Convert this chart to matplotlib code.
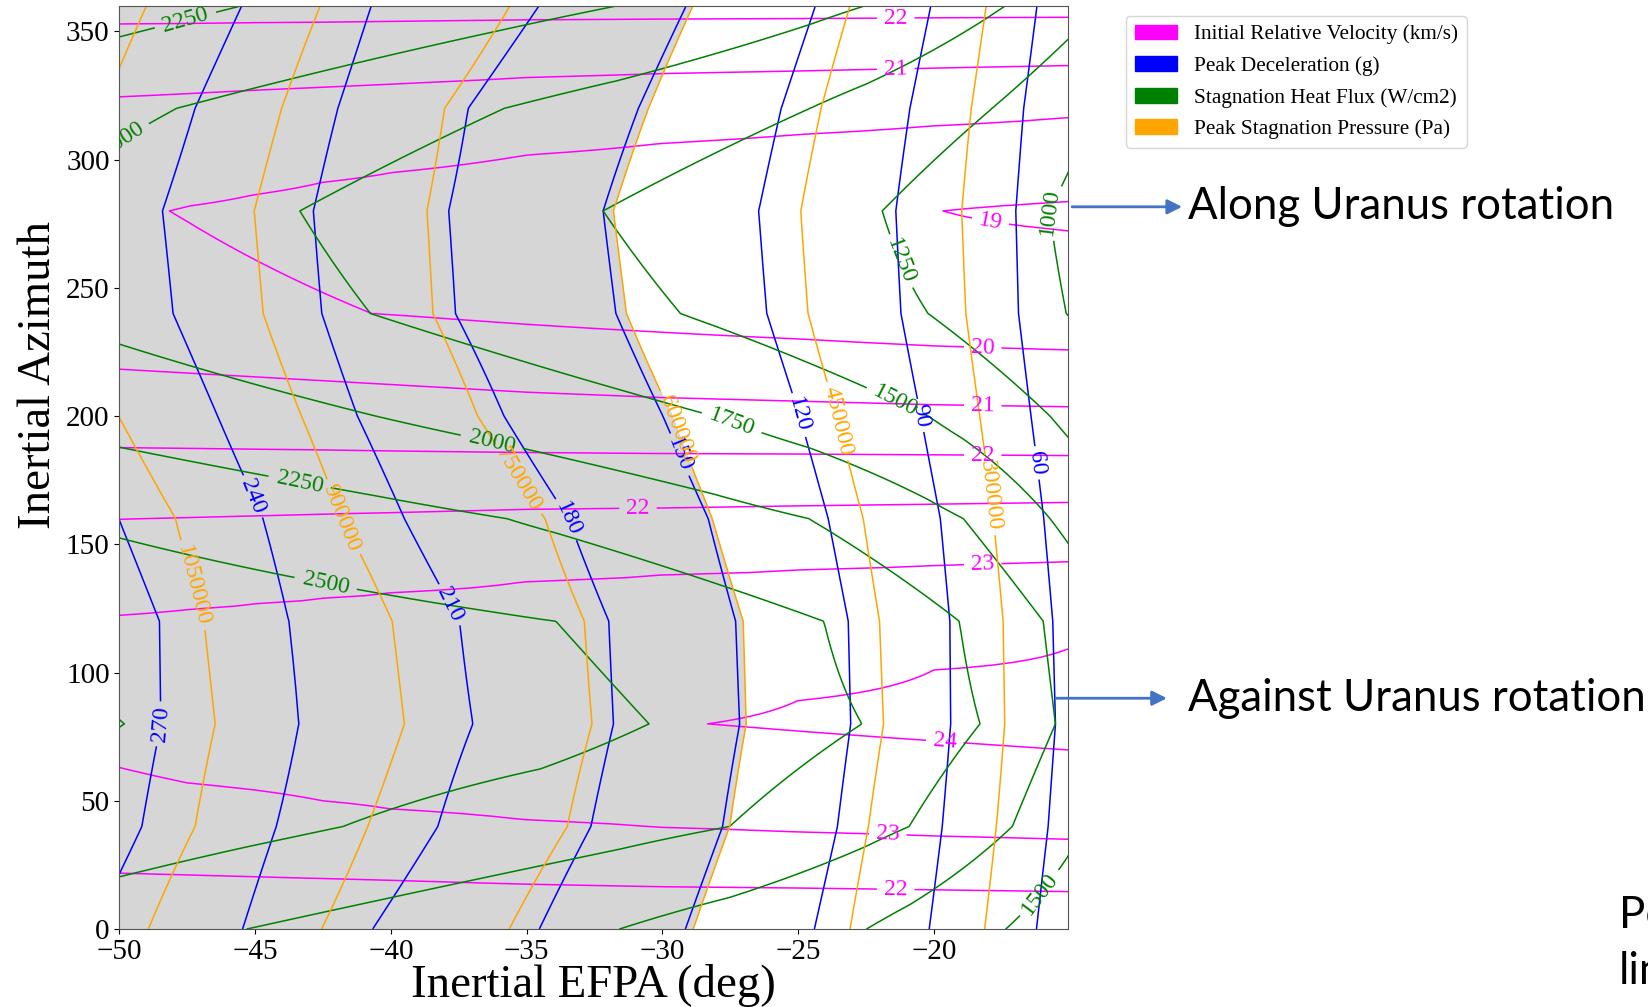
import numpy as np
import matplotlib
matplotlib.use("Agg")
import matplotlib.pyplot as plt
from matplotlib.patches import Patch
from matplotlib.transforms import blended_transform_factory

nan = np.nan

# azimuth rows of the entry sweep (deg)
azimuth_rows = [0, 40, 80, 120, 160, 200, 240, 280, 320, 360]

# peak deceleration (g): EFPA where each level sits on every azimuth row
decel_levels = [30, 60, 90, 120, 150, 180, 210, 240, 270, 300]
decel_efpa = [
    [-12.4, -12.0, -11.7, -11.8, -12.1, -12.5, -12.9, -13.0, -12.7, -12.4],
    [-16.22, -15.79, -15.52, -15.62, -15.95, -16.42, -16.88, -16.98, -16.69, -16.20],
    [-20.17, -19.69, -19.38, -19.41, -19.76, -20.48, -21.21, -21.40, -20.88, -20.11],
    [-24.40, -23.55, -23.06, -23.15, -23.89, -24.94, -26.15, -26.45, -25.62, -24.36],
    [-29.15, -27.78, -27.15, -27.30, -28.31, -29.98, -31.71, -32.18, -30.88, -29.12],
    [-34.53, -32.63, -31.80, -31.97, -33.46, -35.83, -37.62, -37.87, -37.15, -34.54],
    [-40.67, -38.27, -36.98, -37.47, -39.50, -41.23, -42.54, -42.85, -41.95, -40.72],
    [-45.46, -44.22, -43.39, -43.76, -44.71, -46.38, -48.02, -48.41, -47.21, -45.49],
    [-51.00, -49.17, -48.47, -48.52, -50.02, -51.80, -53.30, -53.70, -52.50, -50.80],
    [-56.3, -54.5, -53.8, -53.8, -55.3, -57.1, -58.6, -59.0, -57.8, -56.1],
]

# peak stagnation pressure (Pa)
press_levels = [150000, 300000, 450000, 600000, 750000, 900000, 1050000, 1200000]
press_efpa = [
    [-13.1, -12.7, -12.4, -12.45, -12.8, -13.3, -13.8, -14.0, -13.6, -13.1],
    [-18.13, -17.70, -17.39, -17.45, -17.81, -18.31, -18.82, -18.97, -18.62, -18.07],
    [-23.09, -22.41, -21.85, -22.00, -22.60, -23.57, -24.63, -24.90, -24.15, -23.09],
    [-28.86, -27.52, -26.91, -27.02, -28.16, -29.64, -31.32, -31.80, -30.51, -28.87],
    [-35.64, -33.50, -32.59, -32.87, -34.32, -36.80, -38.45, -38.67, -38.02, -35.61],
    [-42.55, -40.85, -39.50, -39.95, -41.79, -43.29, -44.70, -45.03, -44.02, -42.60],
    [-48.93, -47.21, -46.47, -46.88, -47.93, -50.03, -51.30, -51.60, -50.60, -49.00],
    [-55.9, -54.2, -53.5, -53.9, -54.9, -57.0, -58.3, -58.6, -57.6, -56.0],
]

# stagnation heat flux (W/cm2)
flux_levels = [750, 1000, 1250, 1500, 1750, 2000, 2250, 2500, 2600, 2750, 3000]
flux_efpa = [
    [-7.0, -6.0, -7.5, -7.0, -8.0, -10.0, -11.0, -11.5, -10.0, -8.0],
    [-10.0, -8.5, -9.5, -9.0, -10.0, -12.5, -15.12, -15.75, -14.0, -11.0],
    [-13.5, -11.0, -11.5, -11.0, -12.5, -15.72, -20.21, -21.90, -17.85, -13.8],
    [-17.35, -14.4, -13.3, -13.3, -15.72, -20.21, -29.33, -32.18, -24.56, -17.36],
    [-22.48, -17.11, -15.52, -15.97, -18.91, -28.11, -40.75, -43.35, -35.82, -22.53],
    [-31.58, -20.91, -18.30, -19.06, -24.60, -40.55, -53.4, -54.0, -47.89, -31.65],
    [-45.31, -27.52, -22.65, -24.05, -35.72, -55.5, -62.0, -64.0, -60.0, -45.49],
    [-57.0, -41.76, -30.49, -33.92, -52.6, -65.0, -70.0, -75.0, -72.0, -58.0],
    [-60.2, -47.46, -34.5, -43.55, -58.76, -69.0, -74.0, -79.0, -76.8, -62.8],
    [-65.0, -56.0, -49.82, -58.0, -68.0, -75.0, -80.0, -85.0, -84.0, -70.0],
    [-75.0, -70.0, -62.0, -75.0, -80.0, -85.0, -90.0, -95.0, -96.0, -82.0],
]

# initial relative velocity (km/s), sampled along EFPA columns
vel_columns = [-50, -47.5, -45, -42.5, -40, -35, -30, -25, -20, -15]
vel_at_0 = [22.02, 21.97, 21.96, 21.91, 21.88, 21.87, 21.85, 21.84, 21.84, 21.86]
vel_peak_80 = [23.90, 23.945, 23.99, 24.04, 24.09, 24.18, 24.27, 24.36, 24.46, 24.55]
vel_at_240 = [20.04, 19.974, 19.91, 19.846, 19.782, 19.654, 19.526, 19.398, 19.27, 19.142]
vel_trough_280 = [19.856, 19.78, 19.70, 19.62, 19.54, 19.38, 19.23, 19.07, 18.91, 18.76]
vel_at_360 = [21.83, 21.83, 21.83, 21.83, 21.83, 21.82, 21.82, 21.82, 21.82, 21.82]
vel_crossings = [
    (22.5, [21.8, 21.1, 20.4, 19.7, 19.0, 17.5, 16.5, 16.0, 15.3, 14.6]),
    (23.4, [63.0, 57.0, 54.2, 50.0, 46.8, 42.5, 39.5, 37.8, 36.2, 35.0]),
    (24.3, [nan, nan, nan, nan, nan, nan, nan, 77.2, 73.4, 69.8]),
    (24.3, [nan, nan, nan, nan, nan, nan, nan, 89.1, 101.0, 109.5]),
    (23.4, [122.5, 124.7, 126.9, 129.0, 131.2, 135.6, 138.1, 140.0, 141.8, 143.3]),
    (22.5, [159.8, 160.5, 161.1, 161.8, 162.4, 163.7, 164.2, 165.0, 165.7, 166.4]),
    (21.6, [187.7, 187.4, 187.1, 186.8, 186.4, 185.8, 185.4, 185.2, 184.9, 184.6]),
    (20.7, [218.3, 216.8, 215.3, 213.8, 212.3, 209.3, 207.2, 205.8, 204.4, 203.6]),
    (19.8, [nan, nan, nan, nan, 239.6, 235.8, 232.7, 230.1, 227.4, 225.8]),
    (18.9, [nan, nan, nan, nan, nan, nan, nan, nan, nan, 272.3]),
    (18.9, [nan, nan, nan, nan, nan, nan, nan, nan, nan, 283.6]),
    (19.8, [nan, 281.8, 286.4, 291.2, 294.9, 301.8, 306.4, 309.8, 313.2, 316.5]),
    (20.7, [324.6, 325.8, 327.1, 328.3, 329.5, 332.0, 333.6, 334.6, 335.7, 336.7]),
    (21.6, [352.9, 353.1, 353.4, 353.6, 353.9, 354.5, 354.8, 355.0, 355.3, 355.5]),
]

vel_drawn = [18.9, 19.8, 20.7, 21.6, 22.5, 23.4, 24.3]
decel_drawn = [60, 90, 120, 150, 180, 210, 240, 270]
flux_drawn = [1000, 1250, 1500, 1750, 2000, 2250, 2500, 2750]
press_drawn = [300000, 450000, 600000, 750000, 900000, 1050000]
press_limit = 600000

vel_label_at = [(-21.4, 355.4), (-21.4, 336.2), (-17.9, 276.8), (-18.2, 226.6),
                (-18.2, 204.0), (-18.2, 184.7), (-30.9, 164.3), (-18.2, 142.2),
                (-19.6, 72.9), (-21.7, 36.4), (-21.4, 15.2)]
decel_label_at = [(-48.5, 80), (-45.0, 169), (-37.6, 127.5), (-33.3, 160.5),
                  (-29.2, 185.6), (-24.75, 201), (-20.4, 200.4), (-16.0, 182)]
press_label_at = [(-47.3, 134), (-41.75, 160.7), (-35.15, 176.3), (-29.35, 195.4),
                  (-23.4, 198.4), (-17.9, 169.2)]
flux_label_at = [(-47.6, 355.6), (-50.1, 311), (-43.3, 177), (-42.3, 139.2),
                 (-36.25, 191.4), (-27.4, 198.5), (-21.3, 208.2), (-20.9, 261.6),
                 (-15.9, 279.2), (-16.0, 13.3)]

legend_names = ["Initial Relative Velocity (km/s)", "Peak Deceleration (g)",
                "Stagnation Heat Flux (W/cm2)", "Peak Stagnation Pressure (Pa)"]
legend_colors = ["magenta", "blue", "green", "orange"]

efpa_grid = np.linspace(-52, -13, 391)
az_grid = np.linspace(0, 360, 361)


def rows_field(levels, efpa):
    # field falls off with EFPA along each azimuth row
    levels = np.asarray(levels, float)
    efpa = np.asarray(efpa, float)
    return np.array([np.interp(efpa_grid, efpa[::-1, j], levels[::-1])
                     for j in range(efpa.shape[1])])


def velocity_field():
    cols = []
    for j in range(len(vel_columns)):
        az = [0, 80, 240, 280, 360]
        val = [vel_at_0[j], vel_peak_80[j], vel_at_240[j], vel_trough_280[j], vel_at_360[j]]
        for level, azs in vel_crossings:
            if not np.isnan(azs[j]):
                az.append(azs[j])
                val.append(level)
        order = np.argsort(az)
        cols.append(np.interp(az_grid, np.array(az)[order], np.array(val)[order]))
    return np.array(cols).T


decel = rows_field(decel_levels, decel_efpa)
press = rows_field(press_levels, press_efpa)
flux = rows_field(flux_levels, flux_efpa)
vel = velocity_field()

plt.rcParams["font.family"] = ["Liberation Serif", "DejaVu Serif"]

fig = plt.figure(figsize=(16.48, 10.07), dpi=100)
ax = fig.add_axes([0.0724, 0.0774, 0.5758, 0.9169])

ax.contourf(efpa_grid, azimuth_rows, press, levels=[press_limit, 5e6],
            colors=["#d6d6d6"], zorder=0)

lw = 1.1
cs_v = ax.contour(vel_columns, az_grid, vel, levels=vel_drawn, colors="magenta", linewidths=lw)
cs_d = ax.contour(efpa_grid, azimuth_rows, decel, levels=decel_drawn, colors="blue", linewidths=lw)
cs_f = ax.contour(efpa_grid, azimuth_rows, flux, levels=flux_drawn, colors="green", linewidths=lw)
cs_p = ax.contour(efpa_grid, azimuth_rows, press, levels=press_drawn, colors="orange", linewidths=lw)

ax.clabel(cs_v, fmt="%1.0f", fontsize=17, manual=vel_label_at)
ax.clabel(cs_d, fmt="%d", fontsize=17, manual=decel_label_at)
ax.clabel(cs_f, fmt="%d", fontsize=17, manual=flux_label_at)
ax.clabel(cs_p, fmt="%d", fontsize=17, manual=press_label_at)

ax.set_xlim(-50, -15.05)
ax.set_ylim(0, 360)
ax.set_xticks(range(-50, -19, 5))
ax.set_yticks(range(0, 351, 50))
ax.tick_params(labelsize=21)
for s in ax.spines.values():
    s.set_color("#555555")

ax.set_xlabel("Inertial EFPA (deg)", fontsize=33.7)
ax.set_ylabel("Inertial Azimuth", fontsize=33.7)
ax.xaxis.set_label_coords(0.5, -0.038)
ax.yaxis.set_label_coords(-0.063, 0.60)

handles = [Patch(color=c, label=n) for c, n in zip(legend_colors, legend_names)]
fig.legend(handles=handles, loc="upper left", bbox_to_anchor=(0.6833, 0.9841),
           borderaxespad=0, fontsize=15.3, labelspacing=0.55)

# rotation direction callouts
side = blended_transform_factory(ax.transAxes, ax.transData)
arrow = dict(arrowstyle="-|>", color="#4472C4", lw=2, mutation_scale=22,
             shrinkA=0, shrinkB=0)
for text, az, x0, x1 in [("Along Uranus rotation", 281.6, 1.004, 1.12),
                         ("Against Uranus rotation", 90, 0.987, 1.104)]:
    ax.annotate("", xy=(x1, az), xycoords=side, xytext=(x0, az), textcoords=side,
                arrowprops=arrow, annotation_clip=False)
    ax.text(1.126, az, text, transform=side, fontsize=31.5, family="Lato",
            ha="left", va="center", clip_on=False)

fig.text(0.9824, 0.0904, "Pe", fontsize=31.5, family="Lato", va="center")
fig.text(0.9824, 0.0348, "lin", fontsize=31.5, family="Lato", va="center")

fig.savefig("out.png", dpi=100)
